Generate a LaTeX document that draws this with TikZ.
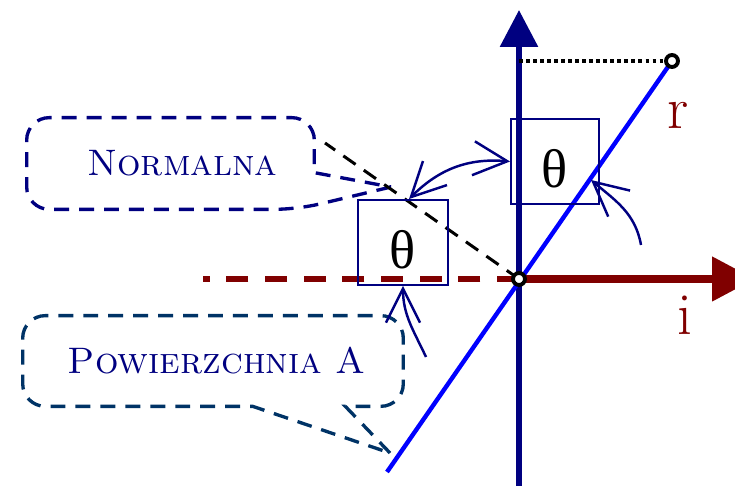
\documentclass[tikz,border=0pt]{standalone}
\usepackage{fontspec}
\newfontfamily\grk{Liberation Serif}
\usepackage{xcolor}
\usetikzlibrary{arrows.meta,calc}
\definecolor{navy}{RGB}{0,0,128}
\definecolor{maroon}{RGB}{128,0,0}
\definecolor{deepsea}{RGB}{0,51,102}

\begin{document}
\begin{tikzpicture}[
  x=0.02cm, y=0.02cm, >={Straight Barb[length=0.68cm,width=0.68cm]},
  axis/.style={line width=3.4pt,draw=navy},
  thbox/.style={draw=navy,line width=1.1pt,minimum width=1.76cm,minimum height=1.7cm,inner sep=0pt,text height=1.05cm,font=\grk\fontsize{31}{36}\selectfont},
  notetext/.style={inner sep=0pt,text=navy,font=\fontsize{21}{25}\selectfont},
  noteline/.style={rounded corners=0.45cm,line width=1.9pt,dash pattern=on 8.5pt off 5.7pt},
  pnt/.style={circle,draw=black,fill=white,line width=2.2pt,minimum size=0.24cm,inner sep=0pt},
  swing/.style={->,draw=navy,line width=1.4pt},
  lbl/.style={text=maroon,font=\fontsize{34}{40}\selectfont}
]
\useasboundingbox (0,0) rectangle (735,486);
\coordinate (O) at (519,207);
\coordinate (ybot) at (519,-5);
\coordinate (ytop) at (519,476);
\coordinate (xtip) at (755,207);
\coordinate (xneg) at (203,207);
\coordinate (rpt) at (672,425);
\coordinate (blo) at (387,14);
\coordinate (nrm) at (325,343);
\coordinate (ptN) at (391,299);
\coordinate (ptP) at (390,33);
\coordinate (bt) at (591,306);
\coordinate (t2) at (641,241);
\coordinate (t3) at (426,129);

\node[notetext,minimum width=5.74cm,minimum height=1.82cm] (nor) at (170.5,322.5) {\hspace*{0.48cm}\textsc{Normalna}};
\draw[noteline,draw=navy] (ptN) -- ($(nor.south east)+(-17,0)$) -- (nor.south west) -- (nor.north west)
  -- (nor.north east) [sharp corners] -- ($(nor.north east)+(0,-55)$) -- (ptN);
\node[notetext,minimum width=7.6cm,minimum height=1.8cm] (pow) at (213,125) {\hspace*{0.16cm}\textsc{Powierzchnia A}};
\draw[noteline,draw=deepsea] (ptP) [sharp corners] -- ($(pow.south east)+(-58,0)$)
  [rounded corners=0.45cm] -- (pow.south east) -- (pow.north east) -- (pow.north west) -- (pow.south west)
  [sharp corners] -- ($(pow.south west)+(230,0)$) -- (ptP);

\draw[axis,-{Triangle[length=0.74cm,width=0.74cm]}] (ybot) -- (ytop);
\draw[line width=4.5pt,draw=maroon,-{Triangle[length=0.86cm,width=0.86cm]}] (O) -- (xtip);
\draw[line width=3pt,draw=maroon,dash pattern=on 12.5pt off 9.5pt] (O) -- (xneg);
\draw[line width=2.5pt,draw=blue] (blo) -- (rpt);
\draw[line width=1.7pt,dash pattern=on 8.5pt off 5.7pt] (O) -- (nrm);
\draw[line width=2.2pt,dash pattern=on 2.2pt off 1.8pt] (O |- rpt) -- (rpt);

\node[thbox] (th1) at (555,324.5) {θ};
\node[thbox,minimum width=1.8cm] (th2) at (403,243.5) {θ};
\coordinate (nt) at ($(th2.north)+(6,0)$);

\draw[swing,<->] (th1.west) to[out=175,in=45] (nt);
\draw[swing] (t2) to[out=100,in=-40] (bt);
\draw[swing] (t3) to[out=115,in=-90] (th2.south);

\node[pnt] (o) at (O) {};
\node[pnt] (r0) at (rpt) {};
\node[lbl] (rl) at (678,371) {r};
\node[lbl] (il) at (685,171) {i};
\end{tikzpicture}
\end{document}
